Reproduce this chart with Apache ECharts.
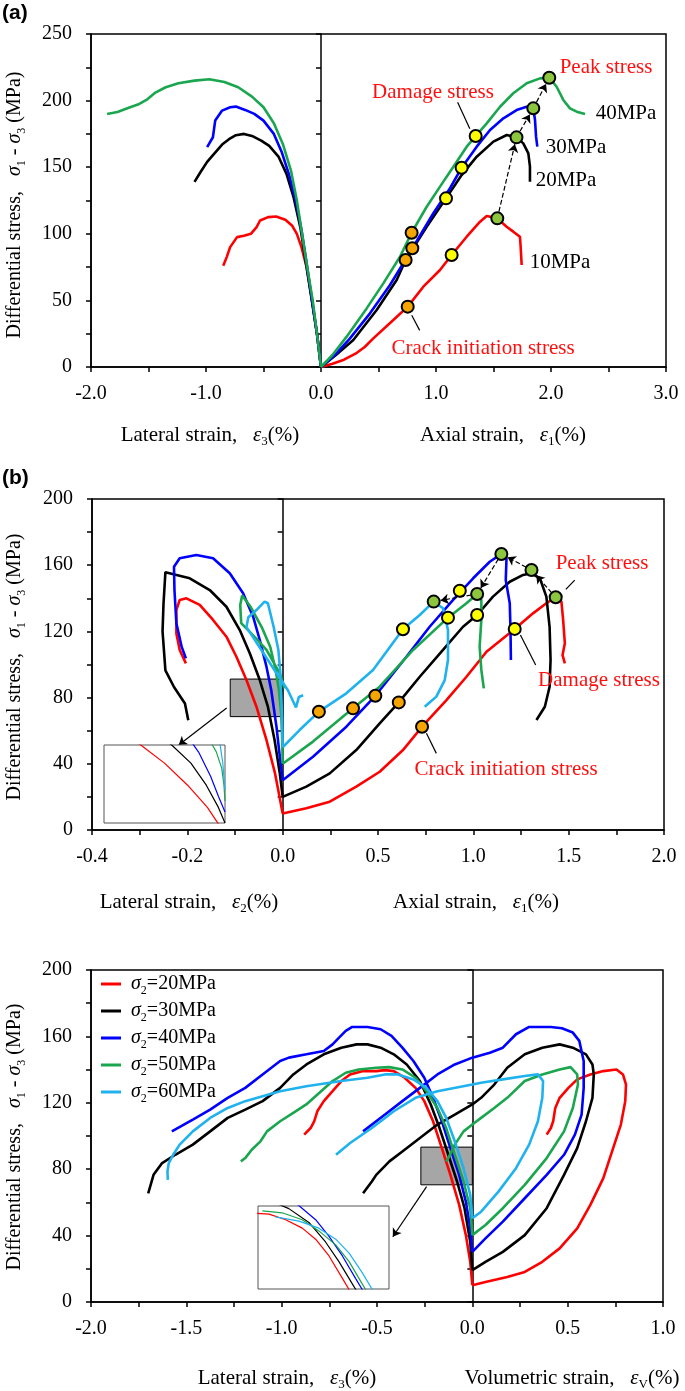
<!DOCTYPE html>
<html><head><meta charset="utf-8">
<script src="https://cdn.jsdelivr.net/npm/echarts@6/dist/echarts.min.js"></script>
<style>html,body{margin:0;padding:0;background:#fff}#c{width:685px;height:1391px}</style>
</head><body><div id="c"></div><script>
// ---------------- DATA: panel (a) ----------------
const A_SIGMA2 = [10, 20, 30, 40];
const A_LAT_10 = [[0,0],[-0.035,25],[-0.078,50],[-0.125,75],[-0.17,90],[-0.21,100],[-0.25,106],[-0.31,110.5],[-0.39,113],[-0.46,112.5],[-0.53,110],[-0.56,105],[-0.61,100],[-0.67,98.5],[-0.73,97.5],[-0.79,90],[-0.82,82.5],[-0.85,76]];
const A_LAT_20 = [[0,0],[-0.035,25],[-0.08,50],[-0.13,77.5],[-0.18,105],[-0.24,128],[-0.3,145],[-0.37,158],[-0.45,166],[-0.52,170],[-0.6,173.5],[-0.67,175],[-0.74,174],[-0.8,171],[-0.86,167],[-0.93,160],[-0.99,154],[-1.05,146],[-1.1,139]];
const A_LAT_30 = [[0,0],[-0.035,25],[-0.078,50],[-0.125,78],[-0.17,103],[-0.22,125],[-0.28,145],[-0.34,161],[-0.41,175],[-0.5,185],[-0.58,190],[-0.66,193],[-0.74,195.5],[-0.79,195],[-0.86,192.5],[-0.92,185],[-0.94,172.5],[-0.97,168],[-0.99,165]];
const A_LAT_40 = [[0,0],[-0.035,25],[-0.072,50],[-0.12,75],[-0.165,100],[-0.21,125],[-0.26,147],[-0.33,167],[-0.41,183],[-0.5,195],[-0.6,203],[-0.72,210],[-0.84,214],[-0.97,216],[-1.1,215],[-1.24,213],[-1.35,210],[-1.44,206],[-1.51,201],[-1.58,197.5],[-1.66,195],[-1.77,191.5],[-1.86,190]];
const A_AX_10 = [[0,0],[0.1,2.5],[0.2,5.5],[0.3,10],[0.38,15],[0.455,21.5],[0.629,35.3],[0.754,45.3],[0.89,60.3],[1.035,72.8],[1.136,84.1],[1.267,97.8],[1.383,109.1],[1.441,113.4],[1.533,111.6],[1.614,105.3],[1.672,101.6],[1.73,97.8],[1.736,90.3],[1.745,76.6]];
const A_AX_20 = [[0,0],[0.13,9],[0.281,20.3],[0.484,42.8],[0.658,65.3],[0.736,80.3],[0.919,105.3],[1.087,126.6],[1.223,144.1],[1.354,157.9],[1.499,169.2],[1.615,174.2],[1.7,172.4],[1.759,167.9],[1.803,160.4],[1.817,150.4],[1.817,139.1]];
const A_AX_30 = [[0,0],[0.12,9],[0.252,21.5],[0.426,40.3],[0.6,61.6],[0.794,89.1],[0.977,115.4],[1.122,134.2],[1.223,149.6],[1.354,165.4],[1.47,177.9],[1.586,186.7],[1.701,192.9],[1.788,195.4],[1.846,194.2],[1.861,185.4],[1.87,172.9],[1.881,165.4]];
const A_AX_40 = [[0,0],[0.1,9],[0.223,22.8],[0.397,44],[0.542,62.8],[0.687,82.8],[0.788,100.8],[0.919,120.3],[1.035,135.4],[1.151,150.4],[1.267,165.4],[1.345,173.4],[1.441,182.9],[1.557,195.4],[1.672,205.5],[1.789,213],[1.904,216.7],[1.985,217.2],[2.049,210.4],[2.107,200.5],[2.165,194.2],[2.223,191.7],[2.296,189.9]];
const A_CRACK = [[0.754,45.3],[0.736,80.3],[0.794,89.1],[0.788,100.8]];
const A_DAMAGE = [[1.136,84.1],[1.087,126.6],[1.223,149.6],[1.345,173.4]];
const A_PEAK = [[1.533,111.6],[1.70,172.4],[1.846,194.2],[1.985,217.2]];
const A_LEADERS = [[[1.188,198.8],[1.294,178.8]], [[0.789,38.8],[0.858,27.5]]];

// ---------------- DATA: panel (b) ----------------
const B_SIGMA2 = [20, 30, 40, 50, 60];
const B_LAT_20 = [[0,10],[-0.008,22.2],[-0.016,34.2],[-0.034,54.4],[-0.055,74.5],[-0.076,90.6],[-0.097,104.7],[-0.118,116.8],[-0.146,126.9],[-0.174,136],[-0.202,140],[-0.216,139],[-0.223,132.9],[-0.223,118.8],[-0.216,108.8],[-0.203,100.7]];
const B_LAT_30 = [[0,20],[-0.006,34.2],[-0.017,54.4],[-0.031,74.5],[-0.048,90.6],[-0.069,106.8],[-0.09,120.8],[-0.118,134.9],[-0.153,145],[-0.195,152.1],[-0.246,155.8],[-0.25,136.7],[-0.252,120],[-0.246,96.5],[-0.228,86.4],[-0.205,76.4],[-0.198,66.3]];
const B_LAT_40 = [[0,30],[-0.006,44.3],[-0.013,62.4],[-0.024,84.6],[-0.034,98.7],[-0.048,114.8],[-0.062,128.9],[-0.083,143],[-0.111,155.1],[-0.146,164.2],[-0.181,166.2],[-0.216,164.2],[-0.228,159.1],[-0.227,145],[-0.223,124.9],[-0.212,110.8],[-0.203,103.7]];
const B_LAT_50 = [[0,40],[-0.001,55],[-0.003,70],[-0.008,85],[-0.015,97],[-0.026,110.6],[-0.044,122.6],[-0.067,134.7],[-0.085,141.7],[-0.089,136],[-0.087,125],[-0.07,120],[-0.05,114],[-0.034,108.8],[-0.006,94.7],[0.004,85.6]];
const B_LAT_60 = [[0,50],[-0.001,62],[-0.002,74.5],[-0.005,95],[-0.009,108.8],[-0.019,122.8],[-0.031,137],[-0.038,138],[-0.055,132.9],[-0.072,128.6],[-0.076,122.6],[-0.044,108.5],[-0.017,96.5],[0.011,84.4],[0.028,74],[0.034,80.4],[0.043,81.4]];
const B_AX_20 = [[0,10],[0.124,13.1],[0.247,17.1],[0.386,26.2],[0.509,35.2],[0.631,48.3],[0.731,62.4],[0.859,78.5],[0.964,92.6],[1.069,107.7],[1.217,121.5],[1.313,130.9],[1.383,137],[1.432,140.6],[1.462,138],[1.471,126.9],[1.48,112.8],[1.468,105.7],[1.48,100.7]];
const B_AX_30 = [[0,20],[0.124,26.2],[0.247,34.2],[0.386,48.3],[0.509,64.4],[0.609,77.1],[0.719,92.6],[0.841,108.8],[0.946,122.8],[1.02,129.9],[1.103,141],[1.191,150],[1.261,154.1],[1.305,155.1],[1.349,152.1],[1.383,141],[1.4,122.8],[1.405,102.7],[1.4,86.6],[1.375,74.5],[1.331,66.5]];
const B_AX_40 = [[0,30],[0.159,44.3],[0.334,62.4],[0.486,81.1],[0.649,104.7],[0.771,122.8],[0.894,139],[0.999,152.1],[1.086,162.1],[1.147,166.8],[1.174,164.2],[1.17,151],[1.191,137],[1.195,120.8],[1.197,102.7]];
const B_AX_50 = [[0,40],[0.159,53.4],[0.369,73.5],[0.509,86.6],[0.684,108.8],[0.867,128.3],[0.964,137],[1.02,142.6],[1.042,139],[1.042,127],[1.033,110.8],[1.042,96.7],[1.055,85.6]];
const B_AX_60 = [[0,50],[0.089,60.4],[0.19,71.5],[0.334,82.6],[0.474,96.7],[0.631,121.3],[0.719,129.9],[0.792,138],[0.841,134],[0.867,120.8],[0.867,102.7],[0.85,90.6],[0.806,80.6],[0.745,74.5]];
const B_CRACK = [[0.731,62.4],[0.609,77.1],[0.486,81.1],[0.369,73.5],[0.19,71.5]];
const B_DAMAGE = [[1.217,121.5],[1.02,129.9],[0.929,144.6],[0.867,128.3],[0.631,121.3]];
const B_PEAK = [[1.432,140.6],[1.305,157.1],[1.147,166.8],[1.02,142.6],[0.792,138]];
const B_LEADERS = [[[1.532,151],[1.485,145.4]], [[1.247,117.8],[1.327,99.7]], [[0.754,58.4],[0.806,46.3]]];
const B_ZOOM_BOX = [[-0.11,68.5],[0,91.2]];
const B_ZOOM_POINTER = [[-0.1175,73.7],[-0.218,51.4]];
const B_INSET_RANGE = [[-0.11,0],[20,91]];

// ---------------- DATA: panel (c) ----------------
const C_SIGMA2 = [20, 30, 40, 50, 60];
const C_LAT_20 = [[0,10.1],[-0.011,24.2],[-0.034,40.3],[-0.069,58.5],[-0.115,76.6],[-0.16,92.7],[-0.206,108.9],[-0.252,121],[-0.298,129],[-0.355,135.1],[-0.412,139.1],[-0.458,139.7],[-0.504,139.1],[-0.573,139.1],[-0.641,137.1],[-0.687,133.1],[-0.733,127],[-0.779,121],[-0.813,114.9],[-0.829,108.9],[-0.848,104.8],[-0.882,100.8]];
const C_VOL_20 = [[0,10.1],[0.069,12.1],[0.183,15.1],[0.275,18.1],[0.367,24.2],[0.458,32.3],[0.55,44.4],[0.619,58.5],[0.687,74.6],[0.733,90.7],[0.779,106.9],[0.802,121],[0.806,131],[0.79,137.1],[0.756,140.1],[0.687,139.1],[0.619,137.1],[0.55,134.1],[0.504,129],[0.458,123],[0.435,116.9],[0.424,108.9],[0.412,104.8],[0.39,100.8]];
const C_LAT_30 = [[0,19.2],[-0.011,36.3],[-0.041,56.5],[-0.08,72.6],[-0.126,88.7],[-0.172,104.8],[-0.218,119],[-0.275,133.1],[-0.344,143.1],[-0.412,149.2],[-0.481,153.2],[-0.55,155.2],[-0.607,155.2],[-0.687,153.2],[-0.779,149.2],[-0.87,143.1],[-0.939,137.1],[-1.008,129],[-1.1,121],[-1.191,115.9],[-1.283,110.9],[-1.375,102.8],[-1.466,94.8],[-1.558,88.7],[-1.627,83.7],[-1.672,76.6],[-1.7,65.5]];
const C_VOL_30 = [[0,19.2],[0.069,24.2],[0.16,30.2],[0.275,40.3],[0.39,56.5],[0.481,76.6],[0.55,92.7],[0.596,108.9],[0.63,123],[0.637,137.1],[0.63,143.1],[0.596,149.2],[0.527,153.2],[0.458,155.2],[0.367,153.2],[0.275,149.2],[0.183,141.1],[0.115,131],[0.046,123],[0,119],[-0.092,112.9],[-0.183,106.9],[-0.275,98.8],[-0.367,90.7],[-0.435,84.7],[-0.504,76.6],[-0.527,72.6],[-0.573,65.5]];
const C_LAT_40 = [[0,30.2],[-0.011,44.4],[-0.034,60.5],[-0.069,76.6],[-0.115,92.7],[-0.16,108.9],[-0.206,123],[-0.252,135.1],[-0.309,145.2],[-0.367,153.2],[-0.424,160.3],[-0.481,164.3],[-0.55,165.7],[-0.63,165.7],[-0.664,163.3],[-0.699,159.3],[-0.733,155.2],[-0.779,151.2],[-0.87,149.2],[-0.962,147.2],[-1.008,145.2],[-1.1,137.1],[-1.191,129],[-1.283,123],[-1.375,115.9],[-1.466,109.9],[-1.576,102.8]];
const C_VOL_40 = [[0,30.2],[0.069,38.3],[0.16,48.4],[0.275,62.5],[0.39,76.6],[0.481,88.7],[0.538,100.8],[0.573,112.9],[0.584,129],[0.584,145.2],[0.561,157.3],[0.527,162.3],[0.47,164.9],[0.412,165.7],[0.298,165.7],[0.229,161.3],[0.16,153.2],[0.092,150.2],[0,147.2],[-0.092,143.1],[-0.183,137.1],[-0.275,129],[-0.367,121],[-0.458,112.9],[-0.573,102.8]];
const C_LAT_50 = [[0,40.3],[-0.011,56.5],[-0.046,72.6],[-0.092,88.7],[-0.137,104.8],[-0.183,116.9],[-0.241,127],[-0.298,135.1],[-0.367,140.1],[-0.435,141.5],[-0.504,141.1],[-0.596,140.1],[-0.664,138.1],[-0.733,133.1],[-0.802,126],[-0.871,119],[-0.939,113.9],[-1.008,108.9],[-1.077,102.8],[-1.111,96.8],[-1.157,91.7],[-1.191,86.7],[-1.214,84.7]];
const C_VOL_50 = [[0,40.3],[0.069,46.4],[0.16,56.5],[0.275,70.6],[0.39,86.7],[0.481,102.8],[0.527,116.9],[0.554,131],[0.55,137.1],[0.515,141.5],[0.458,140.1],[0.367,137.1],[0.275,133.1],[0.183,123],[0.115,116.9],[0.046,110.9],[0,106.9],[-0.046,102.8],[-0.092,94.8],[-0.126,86.7],[-0.137,84.7]];
const C_LAT_60 = [[0,50.4],[-0.011,64.5],[-0.046,80.6],[-0.092,96.8],[-0.137,110.9],[-0.183,121],[-0.241,129],[-0.309,134.1],[-0.39,137.1],[-0.458,137.1],[-0.55,135.1],[-0.687,133.1],[-0.871,130],[-1.008,127],[-1.1,124],[-1.191,121],[-1.283,116.9],[-1.375,110.9],[-1.466,102.8],[-1.535,94.8],[-1.569,88.7],[-1.592,83.7],[-1.599,78.6],[-1.597,73.6]];
const C_VOL_60 = [[0,50.4],[0.046,54.4],[0.137,66.5],[0.229,80.6],[0.298,94.8],[0.344,108.9],[0.367,123],[0.371,133.1],[0.344,137.1],[0.275,136.1],[0.16,134.1],[0.046,132.1],[0,131],[-0.183,127],[-0.298,123],[-0.412,114.9],[-0.527,104.8],[-0.641,95.8],[-0.715,88.7]];
const C_ZOOM_BOX = [[-0.27,70.6],[0,93.3]];
const C_ZOOM_POINTER = [[-0.24,69.5],[-0.417,39.3]];
const C_INSET_RANGE = [[-0.45,0],[85,145]];

// ---------------- STYLE / LAYOUT ----------------
const SERIF = "'Liberation Serif','Times New Roman',serif";
const COLORS = ['#ff0000', '#000000', '#0000ff', '#1aa64e', '#1fb2ef'];
const A_COLORS = ['#ff0000', '#000000', '#0000ff', '#1aa64e'];
const LSCALE = 2.5; // panel (b): lateral half of the x axis is stretched (0.2 per tick vs 0.5)
const GA = {left: 91, top: 34, width: 575, height: 333};
const GB = {left: 92, top: 499, width: 572, height: 331};
const GC = {left: 91, top: 970, width: 572, height: 332};
const GBI = {left: 104, top: 745, width: 121, height: 78};
const GCI = {left: 258, top: 1206, width: 131, height: 83};

function rich(fs, color) {
  color = color || '#000';
  return {
    t: {fontFamily: SERIF, fontSize: fs, color: color, lineHeight: fs + 6},
    g: {fontFamily: SERIF, fontSize: fs, fontStyle: 'italic', color: color, lineHeight: fs + 6},
    s: {fontFamily: SERIF, fontSize: Math.round(fs * 0.62), color: color, lineHeight: Math.round(fs * 0.62), verticalAlign: 'bottom'}
  };
}
const near = (v, m) => Math.abs(v / m - Math.round(v / m)) < 1e-6;
const lab = {fontFamily: SERIF, fontSize: 20, color: '#000'};

function xAx(gi, min, max, interval, fmt) {
  return {type: 'value', gridIndex: gi, min, max, interval, position: 'bottom',
    axisLine: {onZero: false, lineStyle: {color: '#000', width: 1.5}},
    axisTick: {show: true, inside: false, length: 5, lineStyle: {color: '#000', width: 1.5}},
    axisLabel: Object.assign({margin: 17, formatter: fmt, showMinLabel: true, showMaxLabel: true}, lab),
    splitLine: {show: false}};
}
function yAx(gi, max, interval, labStep) {
  return {type: 'value', gridIndex: gi, min: 0, max, interval, position: 'left',
    axisLine: {show: true, onZero: false, lineStyle: {color: '#000', width: 1.5}},
    axisTick: {show: true, inside: false, length: 5, lineStyle: {color: '#000', width: 1.5}},
    axisLabel: Object.assign({margin: 19, formatter: v => near(v, labStep) ? String(v) : ''}, lab),
    splitLine: {show: false}};
}
function yCenter(gi, max, interval) {
  return {type: 'value', gridIndex: gi, min: 0, max, interval, position: 'left',
    axisLine: {show: true, onZero: true, lineStyle: {color: '#000', width: 1.5}},
    axisTick: {show: true, inside: false, length: 5, lineStyle: {color: '#000', width: 1.5}},
    axisLabel: {show: false}, splitLine: {show: false}};
}
function hiddenAx(gi, r) {
  return {type: 'value', gridIndex: gi, min: r[0], max: r[1], show: false, splitLine: {show: false}};
}

const series = [];
function line(name, data, color, xi, yi, w, z) {
  series.push({type: 'line', name, data, xAxisIndex: xi, yAxisIndex: yi, showSymbol: false, symbol: 'none',
    lineStyle: {color, width: w || 2.6}, itemStyle: {color}, z: z || 3, animation: false, silent: true});
}
function markers(data, color, xi, yi) {
  series.push({type: 'scatter', data, xAxisIndex: xi, yAxisIndex: yi, symbol: 'circle', symbolSize: 12,
    itemStyle: {color, borderColor: '#000', borderWidth: 2, opacity: 1}, z: 6, animation: false, silent: true});
}
function segs(list, xi, yi, dashed, arrow, z) {
  series.push({type: 'lines', coordinateSystem: 'cartesian2d', xAxisIndex: xi, yAxisIndex: yi,
    symbol: arrow ? ['none', 'arrow'] : ['none', 'none'], symbolSize: 8,
    lineStyle: {color: '#000', width: 1.2, type: dashed ? 'dashed' : 'solid', opacity: 1},
    data: list.map(c => ({coords: c})), z: z || 5, animation: false, silent: true});
}
// shorten a segment in pixel space so arrows stop at the marker edge
function trim(p, q, r0, r1, g, xr, yr) {
  const sx = g.width / (xr[1] - xr[0]), sy = g.height / (yr[1] - yr[0]);
  const dx = (q[0] - p[0]) * sx, dy = (q[1] - p[1]) * sy, L = Math.hypot(dx, dy);
  const ux = dx / L, uy = dy / L;
  return [[p[0] + ux * r0 / sx, p[1] + uy * r0 / sy], [q[0] - ux * r1 / sx, q[1] - uy * r1 / sy]];
}
const peakIdx = arr => arr.reduce((bi, p, i) => p[1] > arr[bi][1] ? i : bi, 0);
const latB = arr => arr.map(p => [p[0] * LSCALE, p[1]]);

// ---- panel (a): grid 0, xAxis 0, yAxis 0/1
const A_LAT = [A_LAT_10, A_LAT_20, A_LAT_30, A_LAT_40];
const A_AX = [A_AX_10, A_AX_20, A_AX_30, A_AX_40];
A_SIGMA2.forEach((s, i) => { line('a-lat-' + s, A_LAT[i], A_COLORS[i], 0, 0); line('a-ax-' + s, A_AX[i], A_COLORS[i], 0, 0); });
segs(A_LEADERS, 0, 0, false, false);
segs(A_PEAK.slice(0, -1).map((p, i) => trim(p, A_PEAK[i + 1], 7, 7, GA, [-2, 3], [0, 250])), 0, 0, true, true);
markers(A_CRACK, '#f5a400', 0, 0);
markers(A_DAMAGE, '#ffff00', 0, 0);
markers(A_PEAK, '#8cc63f', 0, 0);

// ---- panel (b): grid 1, xAxis 1, yAxis 2/3
const B_LAT = [B_LAT_20, B_LAT_30, B_LAT_40, B_LAT_50, B_LAT_60];
const B_AX = [B_AX_20, B_AX_30, B_AX_40, B_AX_50, B_AX_60];
series.push({type: 'line', data: [], xAxisIndex: 1, yAxisIndex: 2, z: 1, animation: false, silent: true,
  markArea: {silent: true, itemStyle: {color: '#a6a6a6', borderColor: '#000', borderWidth: 1, opacity: 1},
    data: [[{coord: [B_ZOOM_BOX[0][0] * LSCALE, B_ZOOM_BOX[0][1]]}, {coord: [B_ZOOM_BOX[1][0] * LSCALE, B_ZOOM_BOX[1][1]]}]]}});
B_SIGMA2.forEach((s, i) => { line('b-lat-' + s, latB(B_LAT[i]), COLORS[i], 1, 2); line('b-ax-' + s, B_AX[i], COLORS[i], 1, 2); });
segs(B_LEADERS, 1, 2, false, false);
segs([latB(B_ZOOM_POINTER)], 1, 2, false, true);
segs(B_PEAK.slice(0, -1).map((p, i) => trim(p, B_PEAK[i + 1], 6, 7, GB, [-1, 2], [0, 200])), 1, 2, true, true);
markers(B_CRACK, '#f5a400', 1, 2);
markers(B_DAMAGE, '#ffff00', 1, 2);
markers(B_PEAK, '#8cc63f', 1, 2);
// inset (b): grid 3, xAxis 3, yAxis 6
B_SIGMA2.forEach((s, i) => line('bi-' + s, latB(B_LAT[i].slice(0, peakIdx(B_LAT[i]) + 1)), COLORS[i], 3, 6, 1.2, 10));

// ---- panel (c): grid 2, xAxis 2, yAxis 4/5
const C_LAT = [C_LAT_20, C_LAT_30, C_LAT_40, C_LAT_50, C_LAT_60];
const C_VOL = [C_VOL_20, C_VOL_30, C_VOL_40, C_VOL_50, C_VOL_60];
const C_NAMES = C_SIGMA2.map(s => 'σ2=' + s + 'MPa');
series.push({type: 'line', data: [], xAxisIndex: 2, yAxisIndex: 4, z: 1, animation: false, silent: true,
  markArea: {silent: true, itemStyle: {color: '#a6a6a6', borderColor: '#000', borderWidth: 1, opacity: 1},
    data: [[{coord: C_ZOOM_BOX[0]}, {coord: C_ZOOM_BOX[1]}]]}});
C_SIGMA2.forEach((s, i) => { line(C_NAMES[i], C_LAT[i], COLORS[i], 2, 4); line(C_NAMES[i], C_VOL[i], COLORS[i], 2, 4); });
segs([C_ZOOM_POINTER], 2, 4, false, true);
// inset (c): grid 4, xAxis 4, yAxis 7
C_SIGMA2.forEach((s, i) => line('ci-' + s, C_LAT[i].slice(0, peakIdx(C_LAT[i]) + 1), COLORS[i], 4, 7, 1.2, 10));

// ---------------- TEXT ----------------
const graphic = [];
function txt(x, y, text, opt) {
  opt = opt || {};
  graphic.push({type: 'text', x, y, rotation: opt.rot || 0, z: 100, silent: true,
    style: {text, rich: rich(opt.fs || 21, opt.color), fontFamily: SERIF, fontSize: opt.fs || 21, fill: opt.color || '#000',
      align: 'center', verticalAlign: 'middle', textAlign: 'center', textVerticalAlign: 'middle'}});
}
function panelLabel(x, y, t) {
  graphic.push({type: 'text', x, y, z: 100, silent: true,
    style: {text: t, fontFamily: "'Liberation Sans',Arial,sans-serif", fontWeight: 'bold', fontSize: 21, fill: '#000',
      align: 'left', verticalAlign: 'top', textAlign: 'left', textVerticalAlign: 'top'}});
}
const YTITLE = '{t|Differential stress,   }{g|σ}{s|1}{t| - }{g|σ}{s|3}{t| (MPa)}';
panelLabel(2, 3, '(a)');
panelLabel(2, 468, '(b)');
txt(15, 205, YTITLE, {rot: Math.PI / 2, fs: 20});
txt(15, 667, YTITLE, {rot: Math.PI / 2, fs: 20});
txt(15, 1137, YTITLE, {rot: Math.PI / 2, fs: 20});
txt(210, 435, '{t|Lateral strain,   }{g|ε}{s|3}{t|(%)}');
txt(503, 435, '{t|Axial strain,   }{g|ε}{s|1}{t|(%)}');
txt(189, 902, '{t|Lateral strain,   }{g|ε}{s|2}{t|(%)}');
txt(476, 902, '{t|Axial strain,   }{g|ε}{s|1}{t|(%)}');
txt(287, 1378, '{t|Lateral strain,   }{g|ε}{s|3}{t|(%)}');
txt(572, 1378, '{t|Volumetric strain,   }{g|ε}{s|V}{t|(%)}');
const RED = '#ff1010';
txt(433, 92, 'Damage stress', {color: RED});
txt(606, 67, 'Peak stress', {color: RED});
txt(483, 348, 'Crack initiation stress', {color: RED});
A_SIGMA2.forEach((s, i) => txt([560, 566, 576, 626][i], [262, 180, 147, 113][i], s + 'MPa'));
txt(602, 563, 'Peak stress', {color: RED});
txt(599, 680, 'Damage stress', {color: RED});
txt(506, 769, 'Crack initiation stress', {color: RED});

// ---------------- CHART ----------------
const chart = echarts.init(document.getElementById('c'), null, {renderer: 'canvas'});
chart.setOption({
  animation: false,
  backgroundColor: '#fff',
  grid: [
    Object.assign({show: true, borderColor: '#000', borderWidth: 1.5}, GA),
    Object.assign({show: true, borderColor: '#000', borderWidth: 1.5}, GB),
    Object.assign({show: true, borderColor: '#000', borderWidth: 1.5}, GC),
    Object.assign({show: true, borderColor: '#555', borderWidth: 1, backgroundColor: '#fff', z: 8}, GBI),
    Object.assign({show: true, borderColor: '#555', borderWidth: 1, backgroundColor: '#fff', z: 8}, GCI)
  ],
  xAxis: [
    xAx(0, -2, 3, 0.5, v => near(v, 1) ? v.toFixed(1) : ''),
    xAx(1, -1, 2, 0.25, v => near(v, 0.5) ? (v < 0 ? (v / LSCALE).toFixed(1) : v.toFixed(1)) : ''),
    xAx(2, -2, 1, 0.25, v => near(v, 0.5) ? v.toFixed(1) : ''),
    hiddenAx(3, [B_INSET_RANGE[0][0] * LSCALE, B_INSET_RANGE[0][1]]),
    hiddenAx(4, C_INSET_RANGE[0])
  ],
  yAxis: [
    yAx(0, 250, 25, 50), yCenter(0, 250, 25),
    yAx(1, 200, 20, 40), yCenter(1, 200, 20),
    yAx(2, 200, 20, 40), yCenter(2, 200, 20),
    hiddenAx(3, B_INSET_RANGE[1]),
    hiddenAx(4, C_INSET_RANGE[1])
  ],
  legend: {
    data: C_NAMES, orient: 'vertical', left: 101, top: 974, padding: 0, itemGap: 4,
    itemWidth: 20, itemHeight: 3, icon: 'rect', selectedMode: false,
    formatter: n => '{g|σ}{s|2}{t|' + n.slice(2) + '}',
    textStyle: {rich: rich(20), padding: [0, 0, 0, 5]}
  },
  series,
  graphic
});
</script></body></html>
